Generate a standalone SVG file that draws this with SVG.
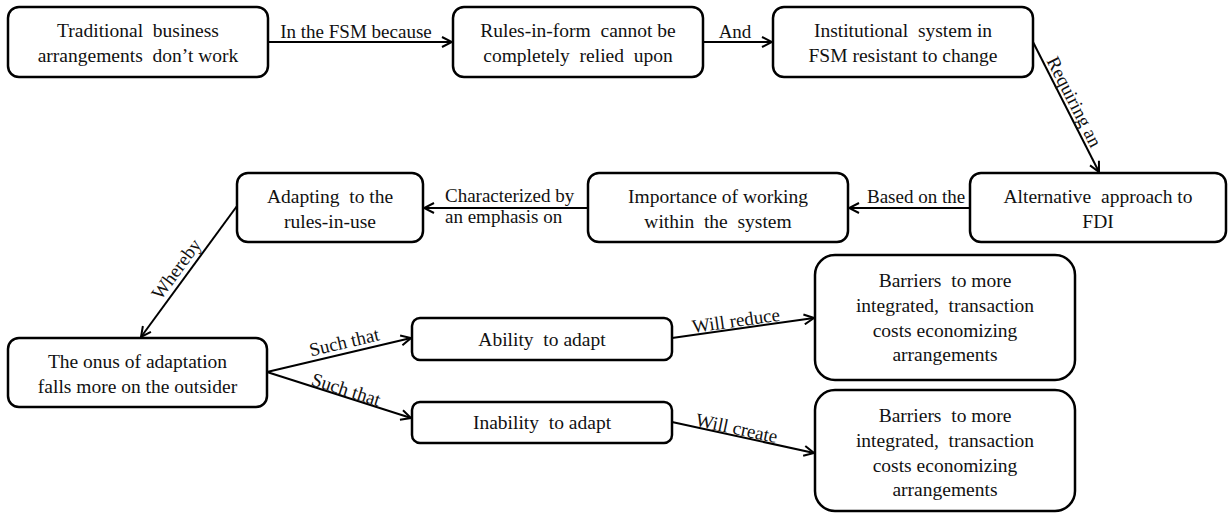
<svg xmlns="http://www.w3.org/2000/svg" width="1228" height="514" viewBox="0 0 1228 514">
  <defs>
    <style>
      .box { fill: #ffffff; stroke: #000000; stroke-width: 2.5; }
      .txt { font-family: "Liberation Serif", "Times New Roman", serif; font-size: 19.5px; fill: #111111; text-anchor: middle; white-space: pre; }
      .edge { fill: none; stroke: #000000; stroke-width: 2; marker-end: url(#arrow); }
      .lbl { font-family: "Liberation Serif", "Times New Roman", serif; font-size: 19px; fill: #111111; white-space: pre; }
      .mid { text-anchor: middle; }
    </style>
    <marker id="arrow" viewBox="0 0 12 12" refX="11" refY="6" markerWidth="12" markerHeight="12" markerUnits="userSpaceOnUse" orient="auto">
      <path d="M1,1 L11,6 L1,11" fill="none" stroke="#000000" stroke-width="2" stroke-linejoin="miter"/>
    </marker>
  </defs>
  <rect width="1228" height="514" fill="#ffffff"/>

  <!-- connectors -->
  <g id="connectors">
    <line class="edge" x1="268" y1="42" x2="452" y2="42"/>
    <text class="lbl mid" x="356" y="38">In the FSM because</text>

    <line class="edge" x1="703" y1="42" x2="772" y2="42"/>
    <text class="lbl mid" x="735" y="38">And</text>

    <line class="edge" x1="1033" y1="42" x2="1099" y2="172"/>
    <text class="lbl mid" transform="translate(1066,106) rotate(63)" x="0" y="-3">Requiring an</text>

    <line class="edge" x1="970" y1="208" x2="849" y2="208"/>
    <text class="lbl" x="867" y="203">Based on the</text>

    <line class="edge" x1="588" y1="208" x2="424" y2="208"/>
    <text class="lbl" x="445" y="202">Characterized by</text>
    <text class="lbl" x="445" y="223">an emphasis on</text>

    <line class="edge" x1="237" y1="206" x2="141" y2="337"/>
    <text class="lbl mid" transform="translate(187,272) rotate(-53.6)" x="-4" y="-4">Whereby</text>

    <line class="edge" x1="267" y1="372" x2="411" y2="338"/>
    <text class="lbl mid" transform="translate(339,355) rotate(-13.3)" x="8" y="-5">Such that</text>

    <line class="edge" x1="267" y1="372" x2="411" y2="418"/>
    <text class="lbl mid" transform="translate(339,395) rotate(17.7)" x="5" y="-1">Such that</text>

    <line class="edge" x1="672" y1="338" x2="814" y2="318"/>
    <text class="lbl mid" transform="translate(743,328) rotate(-8)" x="-6" y="-2">Will reduce</text>

    <line class="edge" x1="672" y1="422" x2="814" y2="453"/>
    <text class="lbl mid" transform="translate(743,437) rotate(12)" x="-8" y="-1">Will create</text>
  </g>

  <!-- nodes -->
  <g id="n-traditional">
    <rect class="box" x="8" y="7" width="260" height="70" rx="11"/>
    <text class="txt" x="138" y="37">Traditional  business</text>
    <text class="txt" x="138" y="62">arrangements  don’t work</text>
  </g>
  <g id="n-rules-in-form">
    <rect class="box" x="453" y="7" width="250" height="70" rx="11"/>
    <text class="txt" x="578" y="37">Rules-in-form  cannot be</text>
    <text class="txt" x="578" y="62">completely  relied  upon</text>
  </g>
  <g id="n-institutional">
    <rect class="box" x="773" y="7" width="260" height="70" rx="11"/>
    <text class="txt" x="903" y="37">Institutional  system in</text>
    <text class="txt" x="903" y="62">FSM resistant to change</text>
  </g>
  <g id="n-alternative">
    <rect class="box" x="970" y="173" width="256" height="69" rx="11"/>
    <text class="txt" x="1098" y="203">Alternative  approach to</text>
    <text class="txt" x="1098" y="228">FDI</text>
  </g>
  <g id="n-importance">
    <rect class="box" x="588" y="173" width="260" height="69" rx="11"/>
    <text class="txt" x="718" y="203">Importance of working</text>
    <text class="txt" x="718" y="228">within  the  system</text>
  </g>
  <g id="n-adapting">
    <rect class="box" x="237" y="173" width="186" height="69" rx="11"/>
    <text class="txt" x="330" y="203">Adapting  to the</text>
    <text class="txt" x="330" y="228">rules-in-use</text>
  </g>
  <g id="n-onus">
    <rect class="box" x="8" y="338" width="259" height="69" rx="11"/>
    <text class="txt" x="137.5" y="368">The onus of adaptation</text>
    <text class="txt" x="137.5" y="393">falls more on the outsider</text>
  </g>
  <g id="n-ability">
    <rect class="box" x="412" y="318" width="260" height="42" rx="8"/>
    <text class="txt" x="542" y="346">Ability  to adapt</text>
  </g>
  <g id="n-inability">
    <rect class="box" x="412" y="402" width="260" height="41" rx="8"/>
    <text class="txt" x="542" y="429">Inability  to adapt</text>
  </g>
  <g id="n-barriers-reduce">
    <rect class="box" x="815" y="255" width="260" height="125" rx="20"/>
    <text class="txt" x="945" y="287">Barriers  to more</text>
    <text class="txt" x="945" y="312">integrated,  transaction</text>
    <text class="txt" x="945" y="337">costs economizing</text>
    <text class="txt" x="945" y="361">arrangements</text>
  </g>
  <g id="n-barriers-create">
    <rect class="box" x="815" y="390" width="260" height="121" rx="20"/>
    <text class="txt" x="945" y="422">Barriers  to more</text>
    <text class="txt" x="945" y="447">integrated,  transaction</text>
    <text class="txt" x="945" y="472">costs economizing</text>
    <text class="txt" x="945" y="496">arrangements</text>
  </g>
</svg>
